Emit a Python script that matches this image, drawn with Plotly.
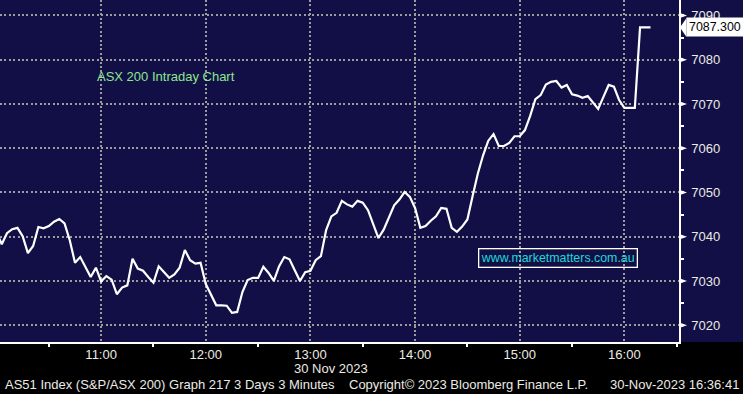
import plotly.graph_objects as go
import pandas as pd

# ---- data ----
start_time = "2023-11-30 10:00"
step_minutes = 3
prices = [
    7041.0, 7038.3, 7040.8, 7041.7, 7042.0, 7040.1, 7036.3, 7037.9, 7042.2, 7041.9,
    7042.4, 7043.4, 7044.0, 7043.0, 7039.2, 7034.1, 7035.4, 7033.0, 7030.9, 7033.0,
    7029.9, 7031.1, 7030.3, 7027.0, 7028.5, 7029.0, 7035.0, 7032.8, 7032.3, 7030.9,
    7029.6, 7033.3, 7032.0, 7030.7, 7031.5, 7033.0, 7037.0, 7034.7, 7033.9, 7034.1,
    7029.3, 7026.8, 7024.5, 7024.5, 7024.4, 7022.8, 7023.0, 7027.5, 7030.2, 7030.7,
    7030.7, 7033.2, 7031.8, 7030.0, 7033.3, 7035.4, 7034.9, 7032.4, 7030.0, 7032.0,
    7032.3, 7034.7, 7035.6, 7041.5, 7044.6, 7045.4, 7048.1, 7047.3, 7046.8, 7048.1,
    7047.7, 7046.0, 7042.8, 7039.7, 7041.6, 7044.5, 7047.1, 7048.4, 7050.1, 7049.0,
    7046.5, 7042.0, 7042.4, 7043.6, 7044.6, 7046.5, 7046.3, 7042.0, 7041.1, 7042.3,
    7043.9, 7049.2, 7054.3, 7058.4, 7061.7, 7063.2, 7060.5, 7060.5, 7061.2, 7062.7,
    7062.7, 7064.1, 7067.3, 7071.1, 7072.0, 7074.4, 7075.0, 7075.2, 7073.7, 7074.3,
    7072.2, 7071.9, 7071.4, 7071.8, 7070.3, 7068.9, 7071.6, 7074.3, 7073.9, 7070.9,
    7069.1, 7069.1, 7069.1, 7087.3, 7087.3, 7087.3,
]
y_ticks = [7020, 7030, 7040, 7050, 7060, 7070, 7080, 7090]
x_range = ["2023-11-30 10:02", "2023-11-30 16:31:20"]
y_range = [7016.2, 7093.5]
chart_title = "ASX 200 Intraday Chart"
watermark = "www.marketmatters.com.au"
date_label = "30 Nov 2023"
footer_left = "AS51 Index (S&P/ASX 200) Graph 217 3 Days 3 Minutes"
footer_mid = "Copyright\u00a9 2023 Bloomberg Finance L.P."
footer_right = "30-Nov-2023 16:36:41"

times = pd.date_range(start_time, periods=len(prices), freq=f"{step_minutes}min")

# ---- layout geometry ----
W, H = 743, 394
PW, PH = 679, 342  # plot area size in px
NAVY = "#110f46"
FONT = "Liberation Sans"
LABEL_COL = "#ecebe4"


def px(xp):
    return xp / PW


def py(yp):
    return (PH - yp) / PH


fig = go.Figure()
fig.add_trace(go.Scatter(
    x=times, y=prices, mode="lines",
    line=dict(color="white", width=2.2), hoverinfo="skip", showlegend=False,
))

shapes = []
# navy band behind the right axis labels
shapes.append(dict(type="rect", xref="paper", yref="paper", x0=1, x1=W / PW,
                   y0=0, y1=1, fillcolor=NAVY, line=dict(width=0), layer="below"))
# triangle major ticks on the right axis
upp = (y_range[1] - y_range[0]) / PH  # units per pixel
for v in y_ticks:
    shapes.append(dict(
        type="path", xref="paper", yref="y",
        path=f"M {px(680)},{v + 2.5 * upp} L {px(687)},{v} L {px(680)},{v - 2.5 * upp} Z",
        fillcolor="white", line=dict(width=0), layer="above"))
# last price tag pointer
last = prices[-1]
shapes.append(dict(
    type="path", xref="paper", yref="y",
    path=f"M {px(680)},{last} L {px(686.5)},{last + 9.5 * upp} L {px(686.5)},{last - 9.5 * upp} Z",
    fillcolor="white", line=dict(width=0), layer="above"))

annotations = [
    dict(text=chart_title, xref="paper", yref="paper", x=px(95), y=py(76),
         xanchor="left", yanchor="middle", showarrow=False,
         font=dict(family=FONT, size=13, color="#8ee68e")),
    dict(text=watermark, xref="paper", yref="paper", x=px(557.5), y=py(258),
         xanchor="center", yanchor="middle", showarrow=False,
         font=dict(family=FONT, size=12.4, color="#1ed8d8"),
         bordercolor="white", borderwidth=1.3, borderpad=1.5),
    dict(text=f"{last:.3f}", xref="paper", yref="y", x=px(686), y=last,
         xanchor="left", yanchor="middle", showarrow=False,
         font=dict(family=FONT, size=12.4, color="black"),
         bgcolor="white", borderpad=2),
    dict(text=date_label, xref="paper", yref="paper", x=px(330.5), y=py(368.5),
         xanchor="center", yanchor="middle", showarrow=False,
         font=dict(family=FONT, size=13, color=LABEL_COL)),
    dict(text=footer_left, xref="paper", yref="paper", x=px(3), y=py(384.5),
         xanchor="left", yanchor="middle", showarrow=False,
         font=dict(family=FONT, size=13, color=LABEL_COL)),
    dict(text=footer_mid, xref="paper", yref="paper", x=px(347), y=py(384.5),
         xanchor="left", yanchor="middle", showarrow=False,
         font=dict(family=FONT, size=13, color=LABEL_COL)),
    dict(text=footer_right, xref="paper", yref="paper", x=px(741), y=py(384.5),
         xanchor="right", yanchor="middle", showarrow=False,
         font=dict(family=FONT, size=13, color=LABEL_COL)),
]

fig.update_layout(
    width=W, height=H,
    margin=dict(l=0, r=W - PW, t=0, b=H - PH, pad=0),
    paper_bgcolor="black", plot_bgcolor=NAVY,
    showlegend=False,
    shapes=shapes, annotations=annotations,
    xaxis=dict(
        range=x_range, type="date",
        tick0="2023-11-30 10:00", dtick=3600000, tickformat="%H:%M",
        showgrid=True, gridcolor="#9c9c9c", gridwidth=2, griddash="2px,2.4px",
        showline=True, linecolor="white", linewidth=1.5,
        ticks="", tickfont=dict(family=FONT, size=13, color=LABEL_COL),
        minor=dict(dtick=1800000, ticks="outside", ticklen=3, tickwidth=1.5,
                   tickcolor="white", showgrid=False),
        zeroline=False, fixedrange=True,
    ),
    yaxis=dict(
        range=y_range, side="right", tickvals=y_ticks,
        showgrid=True, gridcolor="#9c9c9c", gridwidth=2, griddash="2px,2.4px",
        showline=True, linecolor="white", linewidth=1.5,
        ticks="", ticklabelstandoff=8,
        tickfont=dict(family=FONT, size=13, color=LABEL_COL),
        minor=dict(dtick=5, tick0=7015, ticks="outside", ticklen=3, tickwidth=1.5,
                   tickcolor="white", showgrid=False),
        zeroline=False, fixedrange=True,
    ),
)

fig.write_html("out.html")
